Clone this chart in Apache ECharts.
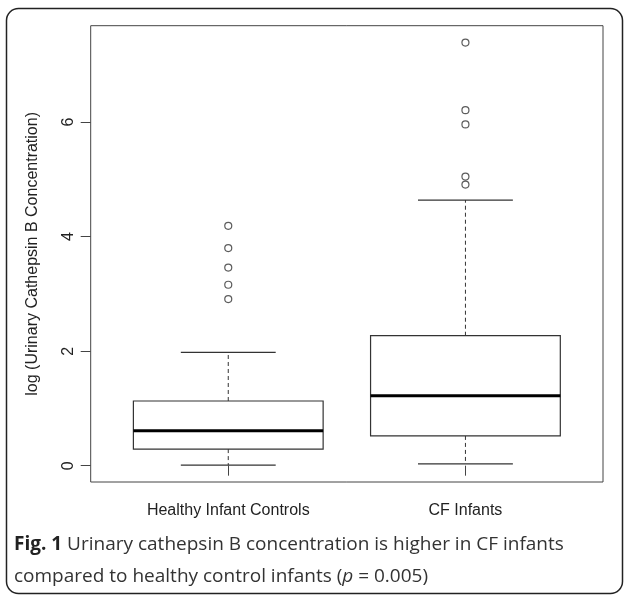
<!DOCTYPE html>
<html>
<head>
<meta charset="utf-8">
<script src="https://cdn.jsdelivr.net/npm/echarts@6/dist/echarts.min.js"></script>
<style>html,body{margin:0;padding:0;background:#fff;}#c{width:624px;height:595px;}</style>
</head>
<body>
<div id="c"></div>
<script>
const categories = ['Healthy Infant Controls', 'CF Infants'];
const lowerWhisker = [0.01, 0.03];
const q1 = [0.29, 0.52];
const median = [0.61, 1.22];
const q3 = [1.13, 2.27];
const upperWhisker = [1.98, 4.64];
const outliersHealthy = [4.19, 3.80, 3.46, 3.16, 2.91];
const outliersCF = [7.39, 6.21, 5.96, 5.05, 4.91];
const yTicks = [0, 2, 4, 6];
const yTitle = 'log (Urinary Cathepsin B Concentration)';
const captionBold = 'Fig. 1';
const captionLine1 = ' Urinary cathepsin B concentration is higher in CF infants';
const captionLine2 = 'compared to healthy control infants (';
const captionP = 'p';
const captionLine2b = ' = 0.005)';

const boxData = categories.map((c, i) => [i + 1, lowerWhisker[i], q1[i], median[i], q3[i], upperWhisker[i]]);
const outlierData = [];
outliersHealthy.forEach(v => outlierData.push([1, v]));
outliersCF.forEach(v => outlierData.push([2, v]));

const chart = echarts.init(document.getElementById('c'), null, {renderer: 'canvas'});
const lineCol = '#333';
const axisFont = 'Liberation Sans, Arial, sans-serif';

function renderBox(params, api) {
  const x = api.value(0);
  const lw = api.value(1), a = api.value(2), m = api.value(3), b = api.value(4), uw = api.value(5);
  const c = (xx, yy) => api.coord([xx, yy]);
  const tl = c(x - 0.4, b), br = c(x + 0.4, a);
  const children = [
    {type: 'line', shape: {x1: c(x, b)[0], y1: c(x, b)[1], x2: c(x, uw)[0], y2: c(x, uw)[1]}, style: {stroke: lineCol, lineWidth: 1, lineDash: [4, 3]}},
    {type: 'line', shape: {x1: c(x, a)[0], y1: c(x, a)[1], x2: c(x, lw)[0], y2: c(x, lw)[1]}, style: {stroke: lineCol, lineWidth: 1, lineDash: [4, 3]}},
    {type: 'line', shape: {x1: c(x - 0.2, uw)[0], y1: c(x - 0.2, uw)[1], x2: c(x + 0.2, uw)[0], y2: c(x + 0.2, uw)[1]}, style: {stroke: lineCol, lineWidth: 1.2}},
    {type: 'line', shape: {x1: c(x - 0.2, lw)[0], y1: c(x - 0.2, lw)[1], x2: c(x + 0.2, lw)[0], y2: c(x + 0.2, lw)[1]}, style: {stroke: lineCol, lineWidth: 1.2}},
    {type: 'rect', shape: {x: tl[0], y: tl[1], width: br[0] - tl[0], height: br[1] - tl[1]}, style: {fill: '#fff', stroke: lineCol, lineWidth: 1.2}},
    {type: 'line', shape: {x1: c(x - 0.4, m)[0], y1: c(x - 0.4, m)[1], x2: c(x + 0.4, m)[0], y2: c(x + 0.4, m)[1]}, style: {stroke: '#000', lineWidth: 3}}
  ];
  return {type: 'group', children};
}

chart.setOption({
  animation: false,
  backgroundColor: '#fff',
  grid: {left: 90.7, right: 21, top: 25.7, bottom: 113, show: true, borderColor: '#444', borderWidth: 1, containLabel: false},
  xAxis: {
    type: 'value', min: 0.42, max: 2.58,
    axisLine: {show: false},
    splitLine: {show: false},
    axisTick: {show: true, customValues: [1, 2], length: 10, lineStyle: {color: '#444', width: 1}},
    axisLabel: {show: true, customValues: [1, 2], formatter: v => categories[Math.round(v) - 1], margin: 21, fontSize: 16, color: '#222', fontFamily: axisFont}
  },
  yAxis: {
    type: 'value', min: -0.285, max: 7.685,
    axisLine: {show: false},
    splitLine: {show: false},
    axisTick: {show: true, customValues: yTicks, length: 10, lineStyle: {color: '#444', width: 1}},
    axisLabel: {show: true, customValues: yTicks, rotate: 90, margin: 14, fontSize: 16, color: '#222', fontFamily: axisFont},
    name: yTitle, nameLocation: 'middle', nameGap: 50, nameRotate: 90,
    nameTextStyle: {fontSize: 16, color: '#222', fontFamily: axisFont}
  },
  series: [
    {type: 'custom', renderItem: renderBox, data: boxData, encode: {x: 0, y: [1, 2, 3, 4, 5]}, z: 2},
    {type: 'scatter', data: outlierData, symbol: 'circle', symbolSize: 7, itemStyle: {color: 'rgba(0,0,0,0)', borderColor: lineCol, borderWidth: 1.2}, z: 3}
  ],
  graphic: [
    {type: 'rect', shape: {x: 6.5, y: 8.5, width: 616, height: 585, r: 12}, style: {fill: 'none', stroke: '#222', lineWidth: 1.5}, z: 0},
    {type: 'text', x: 14, y: 545, style: {text: '{b|' + captionBold + '}' + captionLine1, font: '19px "Open Sans", sans-serif', fill: '#333', verticalAlign: 'middle', rich: {b: {fontWeight: 'bold', fontSize: 19, fontFamily: 'Open Sans', fill: '#222'}}}},
    {type: 'text', x: 14, y: 577, style: {text: captionLine2 + '{i|' + captionP + '}' + captionLine2b, font: '19px "Open Sans", sans-serif', fill: '#333', verticalAlign: 'middle', rich: {i: {fontStyle: 'italic', fontSize: 19, fontFamily: 'Open Sans'}}}}
  ]
});
</script>
</body>
</html>
